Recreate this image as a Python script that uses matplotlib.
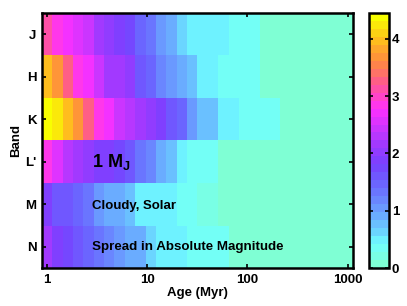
import numpy as np
import matplotlib
matplotlib.use("Agg")
import matplotlib.pyplot as plt
from matplotlib.colors import LinearSegmentedColormap, ListedColormap

plt.rcParams['font.family'] = ['Liberation Sans', 'DejaVu Sans']
plt.rcParams['font.weight'] = 'bold'
plt.rcParams['mathtext.fontset'] = 'custom'
plt.rcParams['mathtext.rm'] = 'Liberation Sans:bold'
plt.rcParams['mathtext.bf'] = 'Liberation Sans:bold'

bands = ["J", "H", "K", "L'", "M", "N"]
ages = [1.0, 1.27, 1.61, 2.04, 2.59, 3.29, 4.17, 5.30, 6.72, 8.53,
        10.8, 13.7, 17.4, 22.1, 28.1, 35.6, 45.2, 57.4, 72.8, 92.4,
        117, 149, 189, 240, 304, 386, 489, 621, 788, 1000]

spread_J = [3.1, 2.85, 2.7, 2.6, 2.4, 2.15, 1.95, 1.85, 1.7, 1.5,
            1.3, 1.05, 0.85, 0.65, 0.45, 0.45, 0.45, 0.45, 0.3, 0.3,
            0.3, 0.1, 0.1, 0.1, 0.1, 0.1, 0.1, 0.1, 0.1, 0.1]
spread_H = [3.95, 3.65, 3.25, 2.85, 2.7, 2.5, 2.2, 2.1, 1.95, 1.55,
            1.45, 1.25, 1.1, 0.9, 0.7, 0.45, 0.45, 0.3, 0.3, 0.3,
            0.3, 0.1, 0.1, 0.1, 0.1, 0.1, 0.1, 0.1, 0.1, 0.1]
spread_K = [4.4, 4.2, 4.0, 3.65, 3.3, 2.85, 2.7, 2.5, 2.3, 2.1,
            2.05, 1.85, 1.55, 1.45, 1.05, 0.7, 0.7, 0.45, 0.45, 0.4,
            0.35, 0.3, 0.3, 0.1, 0.1, 0.1, 0.1, 0.1, 0.1, 0.1]
spread_L = [2.85, 2.6, 2.35, 2.2, 2.05, 1.9, 1.85, 1.75, 1.55, 1.35,
            1.15, 0.95, 0.75, 0.55, 0.3, 0.3, 0.3, 0.12, 0.12, 0.12,
            0.12, 0.12, 0.12, 0.12, 0.12, 0.12, 0.12, 0.12, 0.12, 0.12]
spread_M = [1.85, 1.65, 1.55, 1.4, 1.3, 1.1, 0.95, 0.85, 0.7, 0.55,
            0.45, 0.45, 0.45, 0.3, 0.3, 0.25, 0.25, 0.12, 0.12, 0.12,
            0.12, 0.12, 0.12, 0.12, 0.12, 0.12, 0.12, 0.12, 0.12, 0.12]
spread_N = [2.15, 1.9, 1.75, 1.6, 1.45, 1.3, 1.2, 1.0, 0.85, 0.85,
            0.65, 0.45, 0.45, 0.45, 0.3, 0.3, 0.3, 0.3, 0.12, 0.12,
            0.12, 0.12, 0.12, 0.12, 0.12, 0.12, 0.12, 0.12, 0.12, 0.12]

data = np.array([spread_J, spread_H, spread_K, spread_L, spread_M, spread_N])

vmax = 4.45
anchors = [(0.0, '#7fffd4'), (0.35, '#70ffff'), (0.6, '#6ad0ff'), (1.0, '#6a98ff'),
           (1.4, '#6a68ff'), (1.8, '#7840ff'), (2.2, '#a838ff'), (2.8, '#ff30ff'),
           (3.25, '#ff5890'), (3.65, '#ff8a40'), (4.0, '#ffb820'), (4.45, '#f8ff00')]
base = LinearSegmentedColormap.from_list('c', [(v / vmax, c) for v, c in anchors])
nlev = 32
cmap = ListedColormap(base(np.linspace(0, 1, nlev)))

fig = plt.figure(figsize=(4.07, 3.06), dpi=100)
ax = fig.add_axes([0.103, 0.124, 0.764, 0.834])
cax = fig.add_axes([0.907, 0.124, 0.049, 0.834])

la = np.log10(ages)
step = la[1] - la[0]
xedges = 10 ** np.concatenate([[la[0] - step / 2], (la[:-1] + la[1:]) / 2, [la[-1] + step / 2]])
yedges = np.arange(len(bands) + 1)

mesh = ax.pcolormesh(xedges, yedges, data, cmap=cmap, vmin=0, vmax=vmax, shading='flat')
ax.set_xscale('log')
ax.set_xlim(xedges[0], xedges[-1])
ax.set_ylim(len(bands), 0)
ax.set_yticks(np.arange(len(bands)) + 0.5)
ax.set_yticklabels(bands)
ax.set_xticks([1, 10, 100, 1000])
ax.set_xticklabels(['1', '10', '100', '1000'])
ax.xaxis.set_minor_locator(matplotlib.ticker.NullLocator())
ax.tick_params(direction='in', top=True, right=True, length=3, width=1.2, labelsize=9.5, pad=4)
for s in ax.spines.values():
    s.set_linewidth(1.8)
ax.set_xlabel('Age (Myr)', fontsize=9.5, fontweight='bold', labelpad=1)
ax.set_ylabel('Band', fontsize=9.5, fontweight='bold', labelpad=2)

ax.text(2.8, 3.5, r'1 M$_\mathbf{J}$', fontsize=13, fontweight='bold', va='center')
ax.text(2.8, 4.55, 'Cloudy, Solar', fontsize=9.5, fontweight='bold', va='center')
ax.text(2.8, 5.5, 'Spread in Absolute Magnitude', fontsize=9.6, fontweight='bold', va='center')

cb = fig.colorbar(mesh, cax=cax)
cb.set_ticks([0, 1, 2, 3, 4])
cb.ax.tick_params(direction='in', length=3, width=1.2, labelsize=9.5, left=True, right=True, pad=2)
cb.outline.set_linewidth(1.8)

fig.savefig('out.png', dpi=100)
